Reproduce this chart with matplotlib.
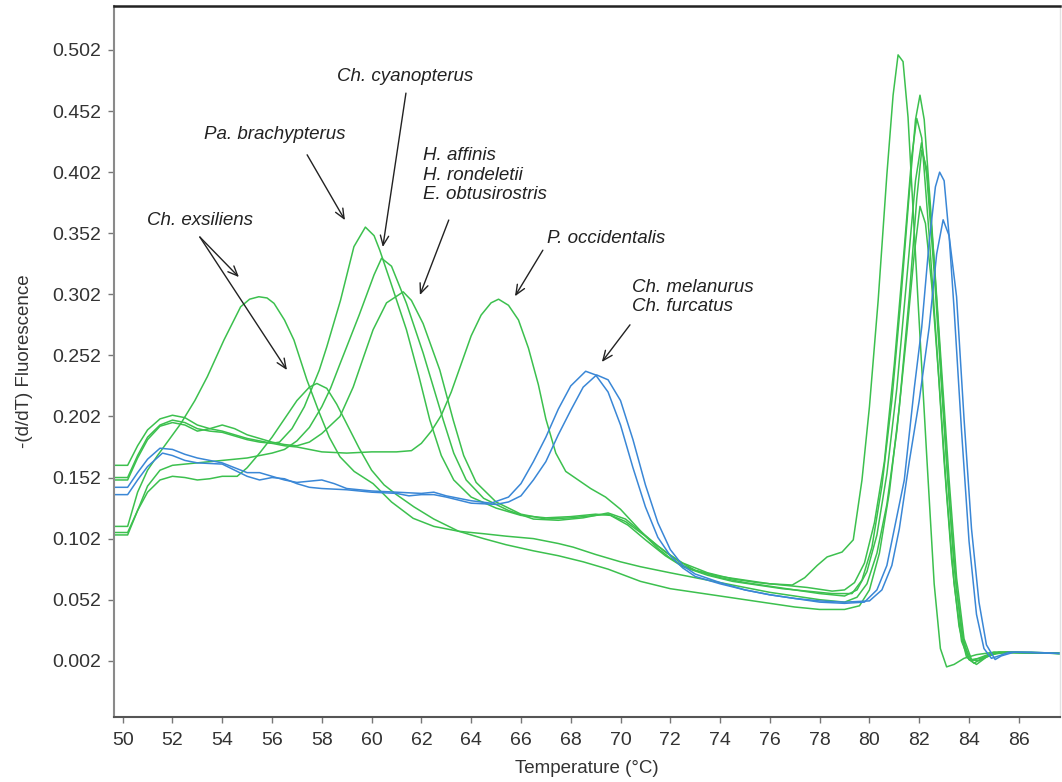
import matplotlib

matplotlib.use("Agg")
import matplotlib.pyplot as plt

FONT_SIZE_TICKS = 14
FONT_SIZE_LABEL = 13.5
FONT_SIZE_NOTE = 13.5

GREEN = "#3cc04e"
BLUE = "#3a87d6"

# --- curve data (temperature, -(d/dT) fluorescence) ---
exs_a_t = [49.65, 50.2, 50.6, 51.0, 51.4, 51.9, 52.33, 52.9, 53.4, 54.07, 54.74, 55.1, 55.47, 55.8,
           56.08, 56.5, 56.88, 57.4, 57.9, 58.3, 58.73, 59.3, 60.06, 60.8, 61.67, 62.5, 63.5, 64.5,
           65.4, 66.5, 67.5, 68.1, 69.0, 70.0, 70.8, 72.0, 73.0, 74.0, 75.0, 76.0, 77.0, 78.0, 79.0,
           79.5, 79.9, 80.3, 80.7, 81.1, 81.5, 81.8, 82.03, 82.25, 82.5, 82.8, 83.1, 83.4, 83.7, 84.0,
           84.4, 84.9, 85.5, 86.5, 87.65]
exs_a_v = [0.112, 0.112, 0.140, 0.158, 0.170, 0.184, 0.196, 0.215, 0.2345, 0.2646, 0.2918, 0.298,
           0.300, 0.299, 0.2946, 0.281, 0.2646, 0.232, 0.205, 0.185, 0.169, 0.157, 0.147, 0.132,
           0.1186, 0.112, 0.108, 0.106, 0.104, 0.102, 0.098, 0.095, 0.089, 0.083, 0.079, 0.074,
           0.070, 0.066, 0.062, 0.058, 0.055, 0.052, 0.050, 0.054, 0.065, 0.090, 0.130, 0.190, 0.270,
           0.335, 0.374, 0.360, 0.310, 0.230, 0.140, 0.065, 0.018, 0.003, 0.002, 0.007, 0.009, 0.009,
           0.008]

exs_b_t = [49.65, 50.2, 50.6, 51.0, 51.5, 52.0, 52.5, 53.0, 53.5, 54.0, 54.6, 55.0, 55.5, 56.0, 56.5,
           57.0, 57.5, 57.8, 58.2, 58.6, 59.0, 59.5, 60.0, 60.5, 61.0, 61.7, 62.5, 63.5, 64.5, 65.4,
           66.5, 67.5, 68.5, 69.5, 70.8, 72.0, 73.0, 74.0, 75.0, 76.0, 77.0, 78.0, 79.0, 79.6, 80.0,
           80.4, 80.8, 81.2, 81.6, 81.9, 82.1, 82.3, 82.6, 82.9, 83.2, 83.5, 83.8, 84.1, 84.5, 85.0,
           85.6, 87.65]
exs_b_v = [0.107, 0.107, 0.125, 0.140, 0.150, 0.153, 0.152, 0.150, 0.151, 0.153, 0.153, 0.160, 0.172,
           0.185, 0.200, 0.215, 0.226, 0.229, 0.225, 0.212, 0.196, 0.176, 0.158, 0.146, 0.138, 0.128,
           0.118, 0.108, 0.102, 0.097, 0.092, 0.088, 0.083, 0.077, 0.067, 0.061, 0.058, 0.055, 0.052,
           0.049, 0.046, 0.044, 0.044, 0.047, 0.060, 0.090, 0.140, 0.210, 0.300, 0.380, 0.420, 0.405,
           0.330, 0.240, 0.150, 0.070, 0.020, 0.003, 0.004, 0.008, 0.009, 0.008]

brach_t = [49.65, 50.2, 50.6, 51.0, 51.5, 52.0, 52.5, 53.0, 53.5, 54.0, 54.5, 55.0, 55.5, 56.0, 56.3,
           56.8, 57.3, 57.9, 58.2, 58.75, 59.29, 59.75, 60.1, 60.33, 60.73, 61.4, 61.9, 62.34, 62.8,
           63.3, 64.0, 65.0, 66.0, 67.0, 68.0, 69.0, 69.6, 70.3, 71.0, 71.8, 72.5, 73.5, 74.5, 75.5,
           76.5, 77.5, 78.5, 79.3, 79.7, 80.1, 80.5, 80.9, 81.25, 81.6, 81.85, 82.03, 82.2, 82.5, 82.8,
           83.1, 83.4, 83.7, 84.0, 84.3, 84.7, 85.2, 87.65]
brach_v = [0.152, 0.152, 0.170, 0.185, 0.195, 0.199, 0.197, 0.192, 0.190, 0.189, 0.186, 0.183, 0.181,
           0.180, 0.181, 0.192, 0.210, 0.240, 0.259, 0.297, 0.341, 0.357, 0.350, 0.338, 0.314, 0.273,
           0.235, 0.199, 0.170, 0.150, 0.136, 0.127, 0.121, 0.119, 0.120, 0.122, 0.121, 0.113, 0.101,
           0.088, 0.079, 0.072, 0.067, 0.064, 0.061, 0.059, 0.057, 0.057, 0.068, 0.095, 0.145, 0.215,
           0.295, 0.385, 0.445, 0.465, 0.445, 0.360, 0.265, 0.165, 0.080, 0.025, 0.003, -0.001, 0.005,
           0.009, 0.008]

cyano_t = [49.65, 50.2, 50.6, 51.0, 51.5, 52.0, 53.0, 54.0, 54.5, 55.0, 55.5, 56.0, 56.5, 57.0, 57.5,
           58.0, 58.35, 58.73, 59.0, 59.5, 60.1, 60.4, 60.8, 61.4, 62.07, 62.88, 63.3, 63.8, 64.5,
           65.5, 66.5, 67.5, 68.5, 69.5, 70.2, 70.8, 71.5, 72.3, 73.0, 74.0, 75.0, 76.0, 77.0, 78.0,
           79.0, 79.5, 79.9, 80.3, 80.7, 81.1, 81.5, 81.85, 82.09, 82.3, 82.6, 82.9, 83.2, 83.5, 83.8,
           84.1, 84.5, 85.0, 87.65]
cyano_v = [0.105, 0.105, 0.125, 0.145, 0.158, 0.162, 0.164, 0.166, 0.167, 0.168, 0.170, 0.172, 0.175,
           0.182, 0.193, 0.210, 0.225, 0.245, 0.259, 0.285, 0.318, 0.3315, 0.325, 0.2946, 0.254,
           0.199, 0.172, 0.150, 0.135, 0.125, 0.118, 0.117, 0.119, 0.123, 0.118, 0.108, 0.096, 0.084,
           0.076, 0.070, 0.066, 0.063, 0.060, 0.057, 0.055, 0.060, 0.075, 0.105, 0.155, 0.225, 0.315,
           0.395, 0.426, 0.400, 0.320, 0.225, 0.135, 0.060, 0.015, 0.002, 0.005, 0.009, 0.008]

affinis_t = [49.65, 50.2, 50.6, 51.0, 51.5, 52.0, 52.5, 53.0, 53.5, 54.0, 54.5, 55.0, 55.5, 56.0,
             56.5, 57.0, 57.5, 58.0, 58.73, 59.26, 59.7, 60.06, 60.6, 61.27, 61.6, 62.07, 62.74,
             63.28, 63.7, 64.2, 65.0, 66.0, 67.0, 68.0, 69.0, 69.5, 70.2, 71.0, 71.8, 72.5, 73.5,
             74.5, 75.5, 76.5, 77.5, 78.5, 79.0, 79.4, 79.8, 80.2, 80.6, 81.0, 81.4, 81.7, 81.9, 82.1,
             82.4, 82.7, 83.0, 83.3, 83.6, 83.9, 84.2, 84.6, 85.2, 87.65]
affinis_v = [0.150, 0.150, 0.168, 0.183, 0.194, 0.197, 0.195, 0.190, 0.192, 0.195, 0.192, 0.187,
             0.184, 0.181, 0.179, 0.178, 0.181, 0.188, 0.202, 0.226, 0.252, 0.273, 0.295, 0.304,
             0.297, 0.278, 0.240, 0.199, 0.170, 0.148, 0.132, 0.122, 0.118, 0.119, 0.121, 0.122,
             0.116, 0.104, 0.091, 0.082, 0.074, 0.069, 0.066, 0.064, 0.062, 0.059, 0.060, 0.066,
             0.082, 0.115, 0.165, 0.245, 0.340, 0.415, 0.446, 0.430, 0.350, 0.260, 0.165, 0.085,
             0.030, 0.005, 0.000, 0.005, 0.009, 0.008]

occ_t = [49.65, 50.2, 50.6, 51.0, 51.5, 52.0, 52.5, 53.0, 53.5, 54.0, 54.5, 55.0, 55.5, 56.0, 56.5,
         57.0, 57.5, 58.0, 59.0, 60.0, 61.0, 61.6, 62.0, 62.4, 62.8, 63.2, 63.6, 64.0, 64.4, 64.8,
         65.1, 65.5, 65.9, 66.3, 66.7, 67.0, 67.4, 67.8, 68.3, 68.8, 69.4, 70.0, 70.5, 71.0, 71.5,
         72.0, 72.5, 73.0, 74.0, 75.0, 76.0, 76.9, 77.4, 77.9, 78.3, 78.9, 79.35, 79.7, 80.0, 80.35,
         80.7, 80.95, 81.15, 81.35, 81.55, 81.95, 82.3, 82.6, 82.85, 83.1, 83.4, 83.8, 84.3, 85.0,
         87.65]
occ_v = [0.162, 0.162, 0.178, 0.191, 0.200, 0.203, 0.201, 0.195, 0.192, 0.190, 0.187, 0.184, 0.182,
         0.180, 0.178, 0.177, 0.175, 0.173, 0.172, 0.173, 0.173, 0.174, 0.180, 0.190, 0.203, 0.222,
         0.245, 0.268, 0.285, 0.295, 0.298, 0.293, 0.281, 0.258, 0.228, 0.200, 0.172, 0.157, 0.150,
         0.143, 0.136, 0.126, 0.115, 0.104, 0.094, 0.086, 0.080, 0.076, 0.071, 0.068, 0.065, 0.064,
         0.070, 0.080, 0.087, 0.091, 0.101, 0.150, 0.210, 0.297, 0.400, 0.465, 0.498, 0.4925, 0.447,
         0.297, 0.170, 0.065, 0.012, -0.003, -0.001, 0.004, 0.007, 0.009, 0.008]

mel_t = [49.65, 50.2, 50.6, 51.0, 51.5, 52.0, 52.5, 53.0, 53.5, 54.0, 54.5, 55.0, 55.5, 56.0, 56.5,
         57.0, 57.5, 58.0, 58.5, 59.0, 60.0, 61.0, 62.0, 62.5, 63.0, 64.0, 64.8, 65.5, 66.0, 66.5,
         67.0, 67.5, 68.0, 68.6, 69.0, 69.5, 70.0, 70.5, 71.0, 71.5, 72.0, 72.5, 73.0, 74.0, 75.0,
         76.0, 77.0, 78.0, 79.0, 79.8, 80.3, 80.7, 81.0, 81.4, 81.8, 82.1, 82.4, 82.65, 82.82, 83.0,
         83.2, 83.4, 83.7, 84.0, 84.3, 84.6, 84.9, 85.2, 85.6, 86.5, 87.65]
mel_v = [0.144, 0.144, 0.156, 0.167, 0.176, 0.175, 0.171, 0.168, 0.166, 0.164, 0.160, 0.156, 0.156,
         0.153, 0.150, 0.148, 0.149, 0.150, 0.147, 0.143, 0.141, 0.140, 0.139, 0.140, 0.137, 0.133,
         0.131, 0.136, 0.147, 0.165, 0.185, 0.208, 0.227, 0.239, 0.236, 0.222, 0.195, 0.160, 0.128,
         0.103, 0.088, 0.078, 0.071, 0.065, 0.060, 0.056, 0.053, 0.050, 0.049, 0.050, 0.060, 0.080,
         0.110, 0.150, 0.225, 0.275, 0.345, 0.390, 0.402, 0.395, 0.350, 0.290, 0.190, 0.100, 0.040,
         0.012, 0.004, 0.006, 0.009, 0.009, 0.008]

furc_t = [49.65, 50.2, 50.6, 51.0, 51.6, 52.0, 52.5, 53.0, 54.0, 54.5, 55.0, 55.5, 56.0, 56.5, 57.0,
          57.5, 58.0, 59.0, 60.0, 61.0, 61.5, 62.0, 62.5, 63.0, 64.0, 65.0, 65.5, 66.0, 66.5, 67.0,
          67.5, 68.0, 68.5, 69.04, 69.5, 70.0, 70.5, 71.0, 71.5, 72.0, 72.5, 73.0, 74.0, 75.0, 76.0,
          77.0, 78.0, 79.0, 80.0, 80.5, 80.9, 81.2, 81.6, 82.0, 82.4, 82.7, 82.96, 83.2, 83.5, 83.8,
          84.1, 84.4, 84.7, 85.05, 85.3, 85.8, 87.65]
furc_v = [0.138, 0.138, 0.150, 0.161, 0.172, 0.170, 0.166, 0.164, 0.163, 0.158, 0.153, 0.150, 0.152,
          0.151, 0.147, 0.144, 0.143, 0.142, 0.140, 0.139, 0.137, 0.138, 0.138, 0.136, 0.131, 0.130,
          0.132, 0.137, 0.150, 0.165, 0.187, 0.207, 0.226, 0.236, 0.232, 0.215, 0.183, 0.146, 0.115,
          0.093, 0.080, 0.073, 0.066, 0.060, 0.056, 0.053, 0.051, 0.050, 0.051, 0.060, 0.080, 0.110,
          0.165, 0.215, 0.275, 0.335, 0.363, 0.350, 0.300, 0.200, 0.110, 0.050, 0.015, 0.003, 0.006,
          0.009, 0.008]

GREEN_CURVES = [(exs_a_t, exs_a_v), (exs_b_t, exs_b_v), (brach_t, brach_v),
                (cyano_t, cyano_v), (affinis_t, affinis_v), (occ_t, occ_v)]
BLUE_CURVES = [(mel_t, mel_v), (furc_t, furc_v)]

X_TICKS = [50, 52, 54, 56, 58, 60, 62, 64, 66, 68, 70, 72, 74, 76, 78, 80, 82, 84, 86]
Y_TICKS = [0.002, 0.052, 0.102, 0.152, 0.202, 0.252, 0.302, 0.352, 0.402, 0.452, 0.502]

# species labels: (text, text position, arrow tail, arrow heads)
NOTES = [
    ("Ch. exsiliens", (50.98, 0.3628), (53.10, 0.3489), [(54.67, 0.3161), (56.60, 0.240)]),
    ("Pa. brachypterus", (53.27, 0.4332), (57.41, 0.4162), [(58.93, 0.3627)]),
    ("Ch. cyanopterus", (58.61, 0.4799), (61.38, 0.4667), [(60.45, 0.3407)]),
    ("H. affinis\nH. rondeletii\nE. obtusirostris", (62.06, 0.3996), (63.10, 0.3628), [(61.94, 0.3014)]),
    ("P. occidentalis", (67.04, 0.3479), (66.88, 0.3381), [(65.76, 0.3004)]),
    ("Ch. melanurus\nCh. furcatus", (70.45, 0.2998), (70.38, 0.2770), [(69.25, 0.2466)]),
]


def main() -> None:
    plt.rcParams["font.family"] = ["Liberation Sans", "DejaVu Sans"]

    fig = plt.figure(figsize=(10.62, 7.82), dpi=100)
    ax = fig.add_axes([0.1073, 0.0835, 0.8907, 0.9088])

    for t, v in GREEN_CURVES:
        ax.plot(t, v, color=GREEN, linewidth=1.1)
    for t, v in BLUE_CURVES:
        ax.plot(t, v, color=BLUE, linewidth=1.1)

    for text, pos, tail, heads in NOTES:
        ax.text(pos[0], pos[1], text, style="italic", fontsize=FONT_SIZE_NOTE,
                color="#222222", ha="left", va="center", linespacing=1.2)
        for head in heads:
            ax.annotate("", xy=head, xytext=tail,
                        arrowprops=dict(arrowstyle="->,head_length=0.7,head_width=0.3",
                                        color="#222222", lw=1.0, shrinkA=0, shrinkB=0))

    ax.set_xlim(49.65, 87.65)
    ax.set_ylim(-0.0438, 0.538)
    ax.set_xticks(X_TICKS)
    ax.set_yticks(Y_TICKS)
    ax.set_yticklabels([f"{y:.3f}" for y in Y_TICKS])
    ax.tick_params(axis="both", labelsize=FONT_SIZE_TICKS, colors="#333333",
                   length=4, width=1.0, direction="out")
    ax.tick_params(axis="x", pad=7)
    ax.tick_params(axis="y", pad=5)
    ax.tick_params(axis="both", which="both", color="#777777")

    ax.set_xlabel("Temperature (°C)", fontsize=FONT_SIZE_LABEL, color="#333333", labelpad=8)
    ax.set_ylabel("-(d/dT) Fluorescence", fontsize=FONT_SIZE_LABEL, color="#333333", labelpad=14)

    ax.spines["left"].set_color("#8a8a8a")
    ax.spines["left"].set_linewidth(1.5)
    ax.spines["bottom"].set_color("#555555")
    ax.spines["bottom"].set_linewidth(1.5)
    ax.spines["top"].set_color("#222222")
    ax.spines["top"].set_linewidth(1.8)
    ax.spines["right"].set_color("#e2e2e2")
    ax.spines["right"].set_linewidth(1.0)

    fig.savefig("out.png", dpi=100)
    plt.close(fig)


if __name__ == "__main__":
    main()
